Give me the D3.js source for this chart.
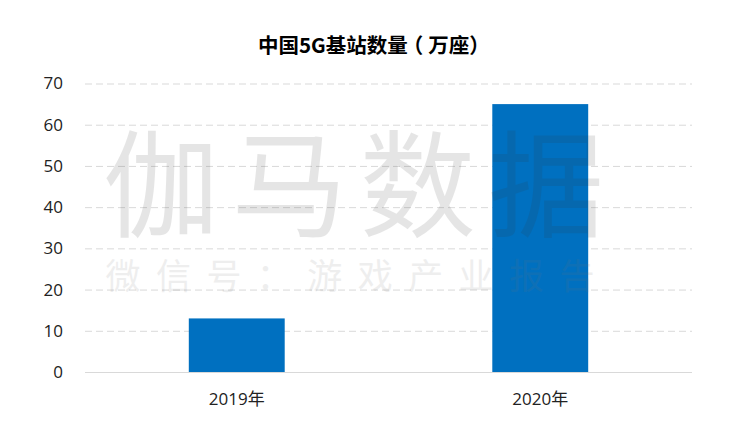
<!DOCTYPE html>
<html><head><meta charset="utf-8"><script src="https://cdn.jsdelivr.net/npm/d3@7"></script>
<style>html,body{margin:0;background:#fff}svg{display:block}text{font-family:"Noto Sans CJK SC","Open Sans",sans-serif}.num{font-family:"Open Sans","Noto Sans CJK SC",sans-serif}</style></head>
<body><svg id="c" width="736" height="435"></svg>
<script>
const categories=["2019年","2020年"];
const values=[13,65];
const yTicks=[0,10,20,30,40,50,60,70];
const titleParts=["中国5G基站数量","（","万座","）"];
const titleGaps=[0,-5,5,0];
const wmBig=["伽","马","数","据"];
const wmSmall=["微","信","号","：","游","戏","产","业","报","告"];
const svg=d3.select("#c");
const x=d3.scaleBand().domain(categories).range([85,692]).paddingInner(0.684).paddingOuter(0.342);
const y=d3.scaleLinear().domain([0,70]).range([372,83.5]);
const wb=d3.scalePoint().domain(wmBig).range([161,546]);
const ws=d3.scalePoint().domain(wmSmall).range([123,577]);
const ax=svg.append("g").attr("transform","translate(85,0)").call(d3.axisLeft(y).tickValues(yTicks).tickSize(-607).tickPadding(22));
ax.select(".domain").remove();
ax.selectAll(".tick line").attr("stroke","#d9d9d9").attr("stroke-dasharray","7,4").filter(d=>d===0).attr("stroke-dasharray",null);
ax.selectAll("text").attr("class","num").attr("font-size",17).attr("fill","#222");
svg.selectAll(".bar").data(values).join("rect").attr("class","bar").attr("x",(d,i)=>x(categories[i])).attr("width",x.bandwidth()).attr("y",d=>y(d)).attr("height",d=>y(0)-y(d)).attr("fill","#0070c0");
const g=svg.append("g").attr("opacity",0.12);
g.selectAll(".wb").data(wmBig).join("text").attr("class","wb").attr("x",d=>wb(d)).attr("y",228).attr("text-anchor","middle").attr("font-size",116).attr("fill","#333").text(d=>d);
g.selectAll(".ws").data(wmSmall).join("text").attr("class","ws").attr("x",d=>ws(d)).attr("y",289).attr("text-anchor","middle").attr("font-size",35).attr("fill","#777").text(d=>d);
svg.selectAll(".cat").data(categories).join("text").attr("class","cat num").attr("x",d=>x(d)+x.bandwidth()/2).attr("y",405).attr("text-anchor","middle").attr("font-size",17).attr("fill","#222").text(d=>d);
svg.append("text").attr("x",258).attr("y",53).attr("font-size",20.5).attr("font-weight",700).attr("fill","#000")
  .selectAll("tspan").data(titleParts).join("tspan").attr("dx",(d,i)=>titleGaps[i]).text(d=>d);
</script></body></html>
